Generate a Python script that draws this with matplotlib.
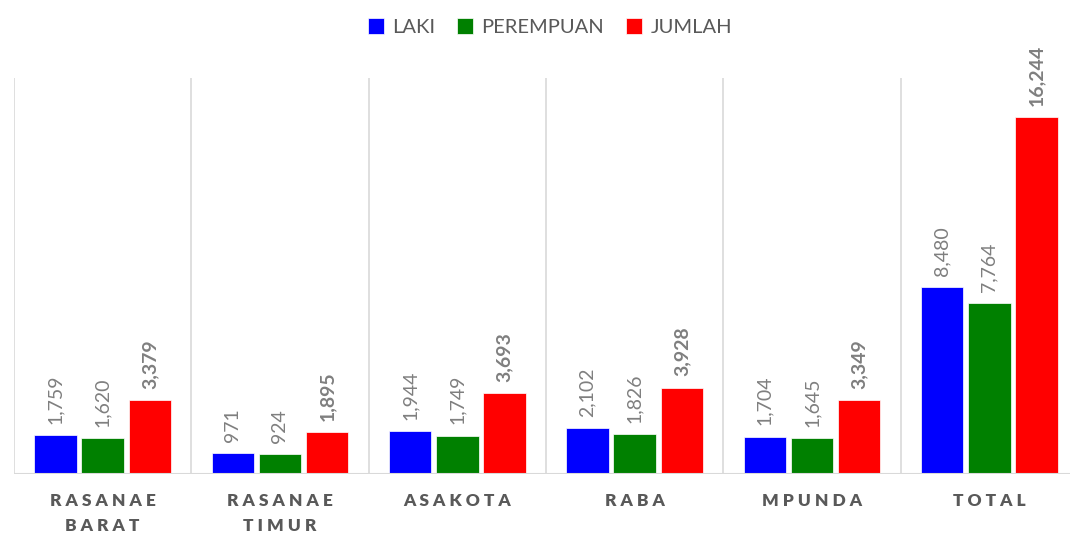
import numpy as np
import matplotlib.pyplot as plt

plt.rcParams['font.family'] = ['Lato', 'DejaVu Sans']

categories = ['RASANAE\nBARAT', 'RASANAE\nTIMUR', 'ASAKOTA', 'RABA', 'MPUNDA', 'TOTAL']
laki = [1759, 971, 1944, 2102, 1704, 8480]
perempuan = [1620, 924, 1749, 1826, 1645, 7764]
jumlah = [3379, 1895, 3693, 3928, 3349, 16244]

series = [('LAKI', laki, '#0000ff', 'normal'),
          ('PEREMPUAN', perempuan, '#008000', 'normal'),
          ('JUMLAH', jumlah, '#ff0000', 'bold')]

def spaced(s):
    return '\n'.join(' '.join(line) for line in s.split('\n'))

fig = plt.figure(figsize=(10.7, 5.35), dpi=100)
ax = fig.add_axes([14/1070, 61/535, 1064/1070, 396/535])

x = np.arange(len(categories))
w = 0.24
gap = 0.026
for i, (name, vals, col, wt) in enumerate(series):
    pos = x + (i - 1) * (w + gap)
    bars = ax.bar(pos, vals, w, color=col, label=name, edgecolor='white', linewidth=0.5)
    for b, v in zip(bars, vals):
        ax.annotate(f'{v:,}', (b.get_x() + b.get_width()/2, v),
                    xytext=(0, 8), textcoords='offset points',
                    rotation=90, ha='center', va='bottom',
                    color='#7f7f7f', fontsize=14, fontweight=wt)

ax.set_xlim(-0.5, len(categories) - 0.5)
ax.set_ylim(0, 18000)
for b in np.arange(len(categories)) - 0.5:
    ax.axvline(b, color='#d9d9d9', lw=1.2, zorder=0)
ax.axhline(0, color='#d9d9d9', lw=1.5)
for s in ax.spines.values():
    s.set_visible(False)
ax.set_yticks([])
ax.set_xticks(x)
ax.set_xticklabels([spaced(c) for c in categories], fontsize=12.5,
                   fontweight='heavy', color='#595959', linespacing=1.65)
ax.tick_params(axis='x', length=0, pad=14)

fig.legend(loc='upper center', bbox_to_anchor=(0.514, 1.0), ncol=3, frameon=False,
           fontsize=14.5, labelcolor='#595959', handlelength=0.8, handleheight=0.8,
           handletextpad=0.4, columnspacing=1.1)

fig.savefig('out.png', dpi=100)
